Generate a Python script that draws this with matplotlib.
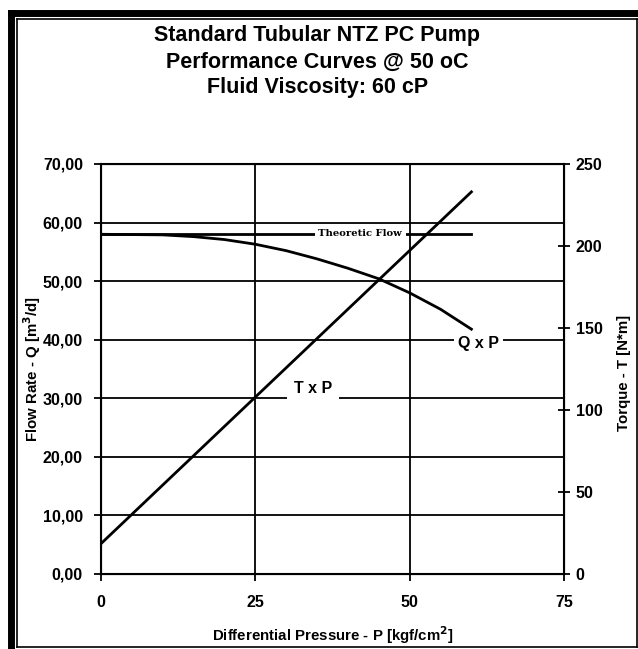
import matplotlib.pyplot as plt
from matplotlib.lines import Line2D

plt.rcParams['font.family'] = ['Liberation Sans', 'DejaVu Sans']
plt.rcParams['font.weight'] = 'bold'

# Data
flow_P = [0, 10, 15, 20, 25, 30, 35, 40, 45, 50, 55, 60]
flow_Q = [58.0, 57.9, 57.6, 57.1, 56.3, 55.2, 53.8, 52.2, 50.4, 48.0, 45.2, 41.8]
theo_P = [0, 60]
theo_Q = [58.0, 58.0]
torque_P = [0, 60]
torque_T = [18.5, 233.0]

x_ticks = [0, 25, 50, 75]
q_ticks = [0, 10, 20, 30, 40, 50, 60, 70]
t_ticks = [0, 50, 100, 150, 200, 250]

W, H = 638, 649
fig = plt.figure(figsize=(W / 100, H / 100), dpi=100)
ax = fig.add_axes([101 / W, 1 - 574 / H, 463 / W, 410 / H])

for q in q_ticks[1:-1]:
    ax.axhline(q, color='black', lw=1.3, zorder=1)
for p in x_ticks[1:-1]:
    ax.axvline(p, color='black', lw=1.3, zorder=1)

ax.plot(theo_P, theo_Q, color='black', lw=2.0, zorder=3)
ax.plot(flow_P, flow_Q, color='black', lw=2.0, zorder=3)

ax.set_xlim(0, 75)
ax.set_ylim(0, 70)
ax.set_xticks(x_ticks)
ax.set_yticks(q_ticks)
ax.set_yticklabels([f"{v:.2f}".replace('.', ',') for v in q_ticks])
ax.tick_params(axis='both', direction='out', length=5, width=1.3, labelsize=11.5, pad=8)
ax.tick_params(axis='x', pad=10)
for s in ax.spines.values():
    s.set_linewidth(1.5)

ax.text(42, 58.1, "Theoretic Flow", ha='center', va='center', fontsize=7.2,
        family='DejaVu Serif', fontweight='bold', zorder=4,
        bbox=dict(facecolor='white', edgecolor='none', pad=2.5))
ax.text(61.2, 39.3, "Q x P", ha='center', va='center', fontsize=11.5, zorder=4,
        bbox=dict(facecolor='white', edgecolor='none', pad=3))
ax.text(34.4, 31.6, "T x P", ha='center', va='center', fontsize=11.5, zorder=4,
        bbox=dict(facecolor='white', edgecolor='none', pad=5))

ax.set_xlabel("Differential Pressure - P [kgf/cm$^2$]", fontsize=10.8, fontweight='bold')
ax.set_ylabel("Flow Rate - Q [m$^3$/d]", fontsize=10.8, fontweight='bold')
ax.xaxis.set_label_coords(0.5, (574 - 624) / 410)
ax.yaxis.set_label_coords((43 - 101) / 463, 0.5)

ax2 = ax.twinx()
ax2.plot(torque_P, torque_T, color='black', lw=2.0, zorder=3)
ax2.set_ylim(0, 250)
ax2.set_yticks(t_ticks)
ax2.tick_params(axis='y', direction='inout', length=9, width=1.3, labelsize=11.5, pad=4)
ax2.set_ylabel("Torque - T [N*m]", fontsize=10.8, fontweight='bold')
ax2.yaxis.set_label_coords((617 - 101) / 463, 0.49)

fig.text(0.497, 1 - 36 / H, "Standard Tubular NTZ PC Pump", ha='center', va='center', fontsize=15.5)
fig.text(0.497, 1 - 62 / H, "Performance Curves @ 50 oC", ha='center', va='center', fontsize=15.5)
fig.text(0.497, 1 - 88 / H, "Fluid Viscosity: 60 cP", ha='center', va='center', fontsize=15.5)

# double frame around the figure
def fline(x0, y0, x1, y1, lw):
    fig.add_artist(Line2D([x0 / W, x1 / W], [1 - y0 / H, 1 - y1 / H],
                          color='black', lw=lw, transform=fig.transFigure))

fline(11, 13, 700, 13, 5)
fline(11, 13, 11, 700, 5)
fline(17, 19, 637, 19, 1.2)
fline(17, 19, 17, 647, 1.2)
fline(17, 647, 637, 647, 1.2)
fline(637, 19, 637, 647, 1.2)

fig.savefig("out.png", dpi=100)
